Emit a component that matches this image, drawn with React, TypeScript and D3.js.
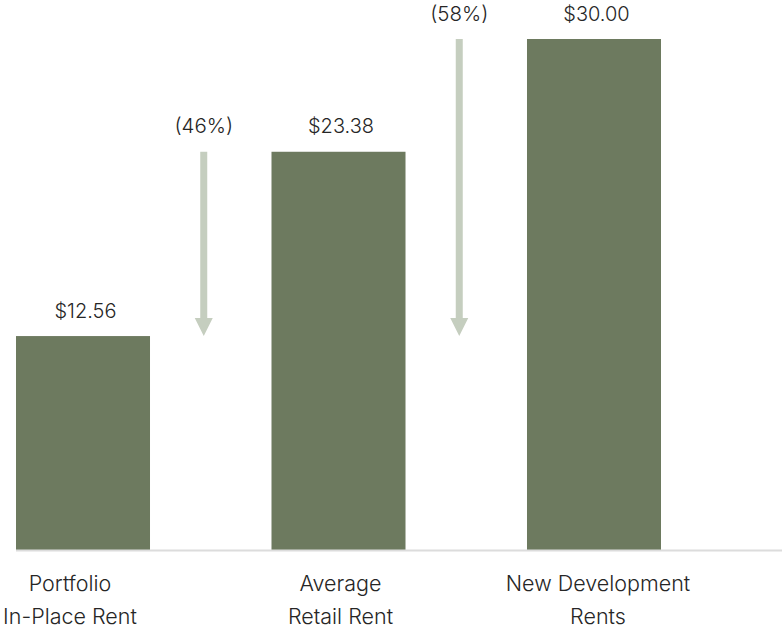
import React from "react";
import * as d3 from "d3";

const categories = ["Portfolio\nIn-Place Rent", "Average\nRetail Rent", "New Development\nRents"];
const values = [12.56, 23.38, 30.0];
const valueLabels = ["$12.56", "$23.38", "$30.00"];
const changeLabels = ["(46%)", "(58%)"];
const labelOffsets = [-13, 2, 4];

const W = 782;
const H = 628;
const baseY = 550;
const BAR = "#6d7a5f";
const ARROW = "#c5cebf";
const TEXT = "#262626";
const FONT = "Inter, Roboto, 'Noto Sans', sans-serif";

export default function App() {
  const x = d3.scaleBand<number>().domain(d3.range(categories.length)).range([16, 661]).paddingInner(0.4755).paddingOuter(0);
  const y = d3.scaleLinear().domain([0, 30]).range([baseY, 39]);
  const bw = x.bandwidth();

  return (
    <svg width={W} height={H} style={{ position: "absolute", left: 0, top: 0, background: "#fff" }} fontFamily={FONT}>
      {values.map((v, i) => (
        <g key={i}>
          <rect x={x(i)!} y={y(v)} width={bw} height={baseY - y(v)} fill={BAR} />
          <text x={x(i)! + bw / 2 + 2.5} y={y(v) - 18.5} textAnchor="middle" fontSize={20} fontWeight={300} fill={TEXT}>
            {valueLabels[i]}
          </text>
        </g>
      ))}
      {changeLabels.map((lab, i) => {
        const cx = (x(i)! + bw + x(i + 1)!) / 2 - 7;
        const top = y(values[i + 1]);
        const bottom = y(values[0]);
        const headH = 18;
        const path = d3.path();
        path.moveTo(cx - 9, bottom - headH);
        path.lineTo(cx + 9, bottom - headH);
        path.lineTo(cx, bottom);
        path.closePath();
        return (
          <g key={i}>
            <rect x={cx - 3.5} y={top} width={7} height={bottom - headH - top + 1} fill={ARROW} />
            <path d={path.toString()} fill={ARROW} />
            <text x={cx} y={top - 18.5} textAnchor="middle" fontSize={20.5} fontWeight={300} fill={TEXT}>
              {lab}
            </text>
          </g>
        );
      })}
      <line x1={16} x2={782} y1={baseY + 0.5} y2={baseY + 0.5} stroke="#dcdcdc" strokeWidth={2} />
      {categories.map((c, i) => (
        <text key={i} textAnchor="middle" fontSize={21.5} fontWeight={300} fill={TEXT}>
          {c.split("\n").map((line, j) => (
            <tspan key={j} x={x(i)! + bw / 2 + labelOffsets[i]} y={591 + j * 33}>
              {line}
            </tspan>
          ))}
        </text>
      ))}
    </svg>
  );
}
